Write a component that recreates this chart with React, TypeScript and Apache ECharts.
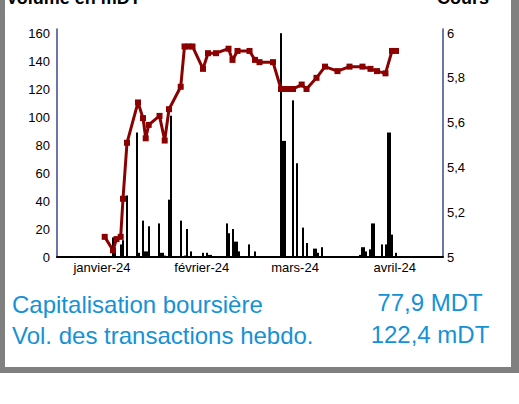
import React, { useEffect, useRef } from "react";
import * as echarts from "echarts";

// x values are days counted from 1 January 2024
const monthTickDays = [0, 31, 60, 91];
const monthLabels = ["janvier-24", "février-24", "mars-24", "avril-24"];

const volumeDays = [
  3.41, 4.03, 5.9, 6.52, 7.76, 10.87, 11.49, 12.74, 13.36, 13.98, 14.6,
  17.71, 18.33, 18.95, 19.58, 20.82, 21.44, 24.55, 25.79, 26.41, 27.66,
  31.39, 32.63, 33.25, 33.88, 38.85, 39.47, 40.72, 41.34, 41.96, 42.58,
  45.69, 47.55, 55.64, 56.26, 56.88, 59.37, 60.61, 62.48, 63.72, 65.9,
  66.52, 67.14, 68.38, 80.2, 80.82, 81.44, 82.06, 83.31, 83.93, 84.55,
  87.04, 88.28, 88.9, 89.52, 90.15, 91.39,
];
const volumes = [
  14, 5, 9, 12, 44, 89, 3, 26, 4, 4, 22,
  24, 3, 3, 1, 41, 101, 26, 1, 20, 4,
  3, 3, 1.5, 1.5, 24, 17, 20, 11, 11, 4,
  9, 4, 160, 83, 83, 112, 67, 21, 10, 6,
  6, 3, 7, 1.5, 7, 7, 4, 5.5, 24, 24,
  9, 9, 89, 89, 16, 3,
];

const priceDays = [
  0.83, 3.41, 4.5, 5.8, 6.52, 7.76, 11.18, 12.74, 13.58, 14.51, 17.87,
  19.48, 20.82, 24.46, 25.64, 26.88, 28.12, 31.39, 32.94, 35.43, 39.32,
  40.56, 42.11, 45.85, 47.55, 48.95, 53.15, 55.64, 57.5, 59.37, 62.07,
  63.57, 66.67, 69.32, 73.2, 76.93, 80.97, 83.46, 85.48, 88.12, 90.15,
  91.39,
];
const prices = [
  5.09, 5.03, 5.08, 5.09, 5.26, 5.51, 5.69, 5.62, 5.53, 5.59, 5.63,
  5.52, 5.66, 5.76, 5.94, 5.94, 5.94, 5.84, 5.91, 5.91, 5.93,
  5.88, 5.92, 5.92, 5.88, 5.87, 5.87, 5.75, 5.75, 5.75, 5.77,
  5.75, 5.8, 5.85, 5.83, 5.85, 5.85, 5.84, 5.83, 5.82, 5.92,
  5.92,
];

const infoLabels = ["Capitalisation boursière", "Vol. des transactions hebdo."];
const infoValues = ["77,9 MDT", "122,4 mDT"];

const FONT = "'Liberation Sans', Arial, sans-serif";
const BLUE = "#1592d6";
const RED = "#8b0000";
const AXIS_BLUE = "#3d4a87";

export default function App() {
  const ref = useRef<HTMLDivElement>(null);

  useEffect(() => {
    if (!ref.current) return;
    const chart = echarts.init(ref.current, undefined, { renderer: "svg" });
    const option: any = {
      animation: false,
      textStyle: { fontFamily: FONT },
      grid: { left: 57, right: 76, top: 29, bottom: 147 },
      xAxis: {
        type: "value",
        min: -14,
        max: 106,
        axisLine: { show: true, onZero: false, lineStyle: { color: "#000", width: 2 } },
        axisTick: { show: false },
        splitLine: { show: false },
        axisLabel: {
          customValues: monthTickDays,
          formatter: (v: number) => {
            const i = monthTickDays.indexOf(Math.round(v));
            return i >= 0 ? monthLabels[i] : "";
          },
          margin: 4,
          fontSize: 13,
          color: "#000",
          fontFamily: FONT,
        },
      },
      yAxis: [
        {
          type: "value",
          position: "left",
          min: 0,
          max: 163,
          interval: 20,
          axisLine: { show: true, onZero: false, lineStyle: { color: AXIS_BLUE, width: 1.5 } },
          axisTick: { show: false },
          splitLine: { show: false },
          axisLabel: { showMaxLabel: false, margin: 7, fontSize: 13, color: "#000", fontFamily: FONT },
        },
        {
          type: "value",
          position: "right",
          min: 5,
          max: 6.018,
          interval: 0.2,
          axisLine: { show: true, onZero: false, lineStyle: { color: AXIS_BLUE, width: 1.5 } },
          axisTick: { show: false },
          splitLine: { show: false },
          axisLabel: {
            showMaxLabel: false,
            margin: 4,
            fontSize: 13,
            color: "#000",
            fontFamily: FONT,
            formatter: (v: number) => String(Number(v.toFixed(1))).replace(".", ","),
          },
        },
      ],
      series: [
        {
          type: "bar",
          xAxisIndex: 0,
          yAxisIndex: 0,
          barWidth: 2,
          itemStyle: { color: "#000" },
          data: volumeDays.map((d, i) => [d, volumes[i]]),
        },
        {
          type: "line",
          xAxisIndex: 0,
          yAxisIndex: 1,
          symbol: "rect",
          symbolSize: 6,
          showSymbol: true,
          lineStyle: { color: RED, width: 3 },
          itemStyle: { color: RED },
          data: priceDays.map((d, i) => [d, prices[i]]),
        },
      ],
      graphic: [
        {
          type: "text",
          x: 6,
          y: -2,
          style: { text: "Volume en mDT", fill: "#000", font: `bold 18px ${FONT}`, align: "left", verticalAlign: "middle" },
        },
        {
          type: "text",
          x: 489,
          y: -2,
          style: { text: "Cours", fill: "#000", font: `bold 18px ${FONT}`, align: "right", verticalAlign: "middle" },
        },
        {
          type: "text",
          x: 12,
          y: 304,
          style: { text: infoLabels[0], fill: BLUE, font: `24px ${FONT}`, align: "left", verticalAlign: "middle" },
        },
        {
          type: "text",
          x: 12,
          y: 335.5,
          style: { text: infoLabels[1], fill: BLUE, font: `24px ${FONT}`, align: "left", verticalAlign: "middle" },
        },
        {
          type: "text",
          x: 430,
          y: 302.5,
          style: { text: infoValues[0], fill: BLUE, font: `24px ${FONT}`, align: "center", verticalAlign: "middle" },
        },
        {
          type: "text",
          x: 430,
          y: 334.5,
          style: { text: infoValues[1], fill: BLUE, font: `24px ${FONT}`, align: "center", verticalAlign: "middle" },
        },
      ],
    };
    chart.setOption(option);
    return () => chart.dispose();
  }, []);

  return (
    <div style={{ position: "fixed", left: 0, top: 0, width: 519, height: 404, background: "#fff", overflow: "hidden" }}>
      <div style={{ position: "absolute", left: 0, top: -20, width: 519, height: 393, background: "#808080" }} />
      <div style={{ position: "absolute", left: 5, top: -20, width: 506, height: 387, background: "#fff" }} />
      <div ref={ref} style={{ position: "absolute", left: 0, top: 0, width: 519, height: 404 }} />
    </div>
  );
}
